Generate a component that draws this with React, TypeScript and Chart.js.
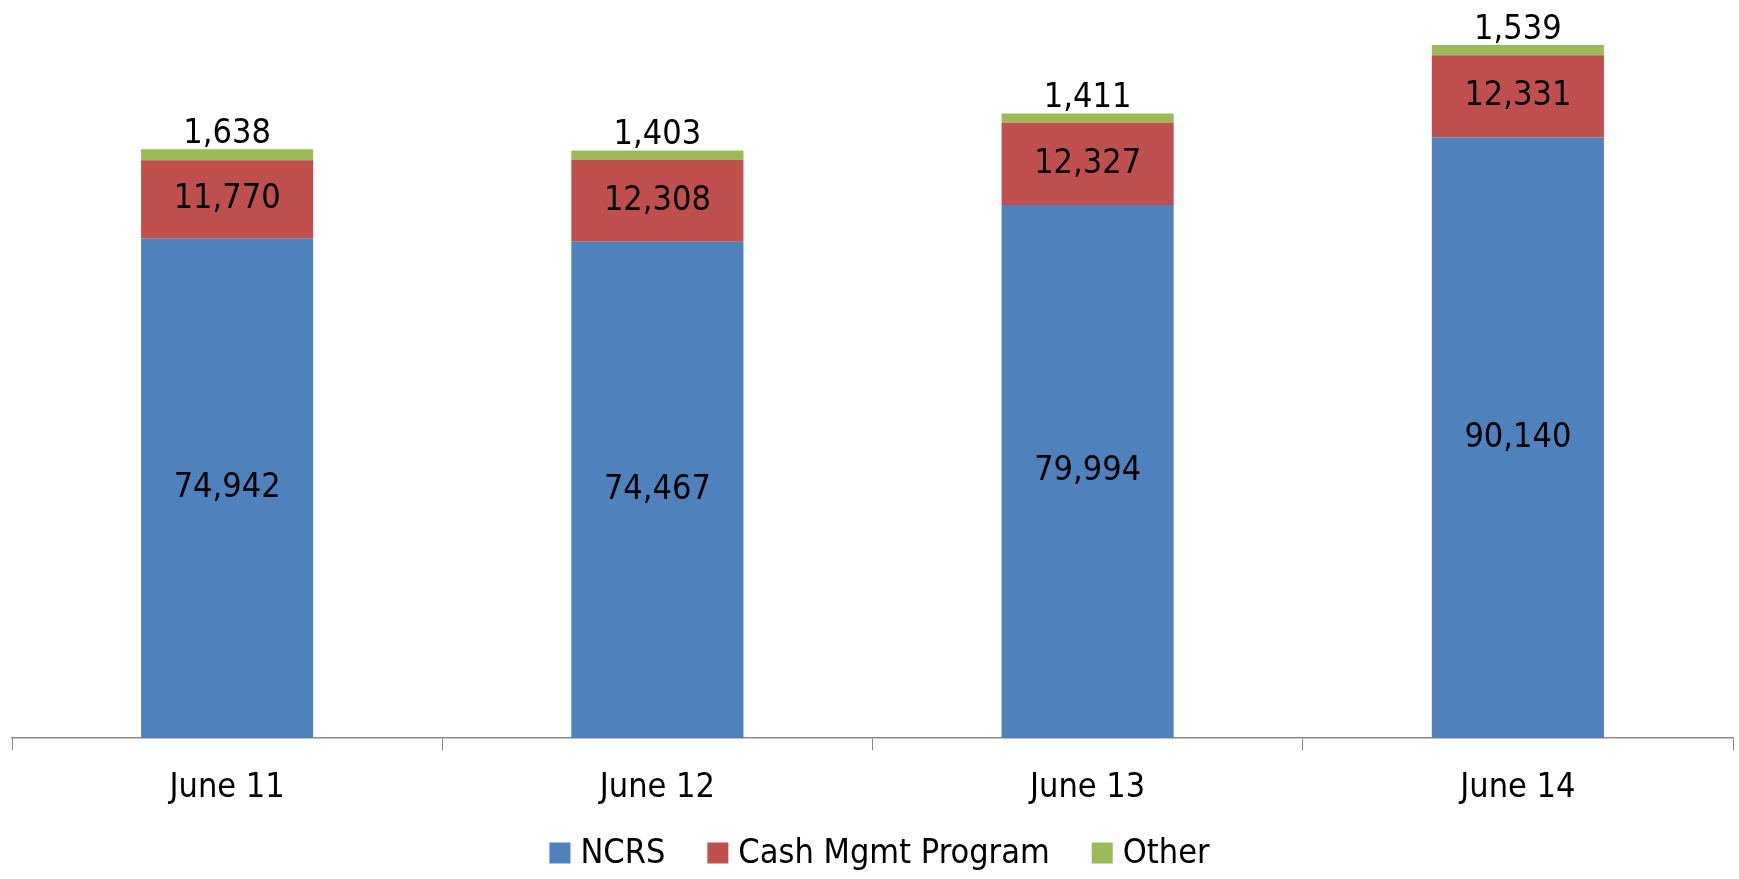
import React, { useEffect, useRef } from "react";
import { Chart, registerables } from "chart.js";

Chart.register(...registerables);

const categories = ["June 11", "June 12", "June 13", "June 14"];
const ncrs = [74942, 74467, 79994, 90140];
const cashMgmt = [11770, 12308, 12327, 12331];
const other = [1638, 1403, 1411, 1539];
const seriesNames = ["NCRS", "Cash Mgmt Program", "Other"];
const seriesColors = ["#4F81BD", "#C0504D", "#9BBB59"];

const FONT = "'Liberation Sans Narrow', 'DejaVu Sans Condensed', Roboto, sans-serif";
const FS = 34;

const labelPlugin = {
  id: "segLabels",
  afterDatasetsDraw(chart: any) {
    const ctx = chart.ctx;
    ctx.save();
    ctx.fillStyle = "#000";
    ctx.font = `${FS}px ${FONT}`;
    ctx.textAlign = "center";
    chart.data.datasets.forEach((ds: any, di: number) => {
      const meta = chart.getDatasetMeta(di);
      meta.data.forEach((el: any, i: number) => {
        const v = ds.data[i];
        const txt = Number(v).toLocaleString("en-US");
        const p = el.getProps(["x", "y", "base"], true);
        if (di === 2) {
          ctx.textBaseline = "alphabetic";
          ctx.fillText(txt, p.x, p.y - 6);
        } else {
          ctx.textBaseline = "middle";
          ctx.fillText(txt, p.x, (p.y + p.base) / 2);
        }
      });
    });
    ctx.restore();
  },
};

const legendPlugin = {
  id: "customLegend",
  afterDraw(chart: any) {
    const ctx = chart.ctx;
    ctx.save();
    ctx.font = `${FS}px ${FONT}`;
    ctx.textBaseline = "middle";
    ctx.textAlign = "left";
    const box = 21;
    const gapBoxText = 10;
    const gapItems = 42;
    const widths = chart.data.datasets.map((ds: any) => box + gapBoxText + ctx.measureText(ds.label).width);
    const total = widths.reduce((a: number, b: number) => a + b, 0) + gapItems * (widths.length - 1);
    let x = (chart.width - total) / 2 + 10;
    const cy = 853;
    chart.data.datasets.forEach((ds: any, i: number) => {
      ctx.fillStyle = ds.backgroundColor;
      ctx.fillRect(x, cy - box / 2, box, box);
      ctx.fillStyle = "#000";
      ctx.fillText(ds.label, x + box + gapBoxText, cy + 1);
      x += widths[i] + gapItems;
    });
    ctx.restore();
  },
};

export default function App() {
  const ref = useRef<HTMLCanvasElement>(null);
  useEffect(() => {
    if (!ref.current) return;
    const chart = new Chart(ref.current, {
      type: "bar",
      data: {
        labels: categories,
        datasets: [ncrs, cashMgmt, other].map((d, i) => ({
          label: seriesNames[i],
          data: d,
          backgroundColor: seriesColors[i],
          borderWidth: 0,
          barPercentage: 0.4,
          categoryPercentage: 1.0,
        })),
      },
      options: {
        animation: false,
        responsive: true,
        maintainAspectRatio: false,
        layout: { padding: { top: 5, left: 12, right: 6, bottom: 52 } },
        plugins: {
          tooltip: { enabled: false },
          legend: { display: false },
        },
        scales: {
          x: {
            stacked: true,
            grid: {
              offset: true,
              drawOnChartArea: false,
              drawTicks: true,
              tickLength: 12,
              color: "#898989",
            },
            border: { color: "#898989", width: 1.5 },
            ticks: {
              color: "#000",
              padding: 18,
              font: { size: FS, family: FONT },
            },
          },
          y: {
            stacked: true,
            display: false,
            min: 0,
            max: 110000,
          },
        },
      },
      plugins: [labelPlugin, legendPlugin],
    });
    return () => chart.destroy();
  }, []);
  return (
    <div style={{ position: "fixed", left: 0, top: 0, width: 1739, height: 879, background: "#fff" }}>
      <canvas ref={ref} />
    </div>
  );
}
